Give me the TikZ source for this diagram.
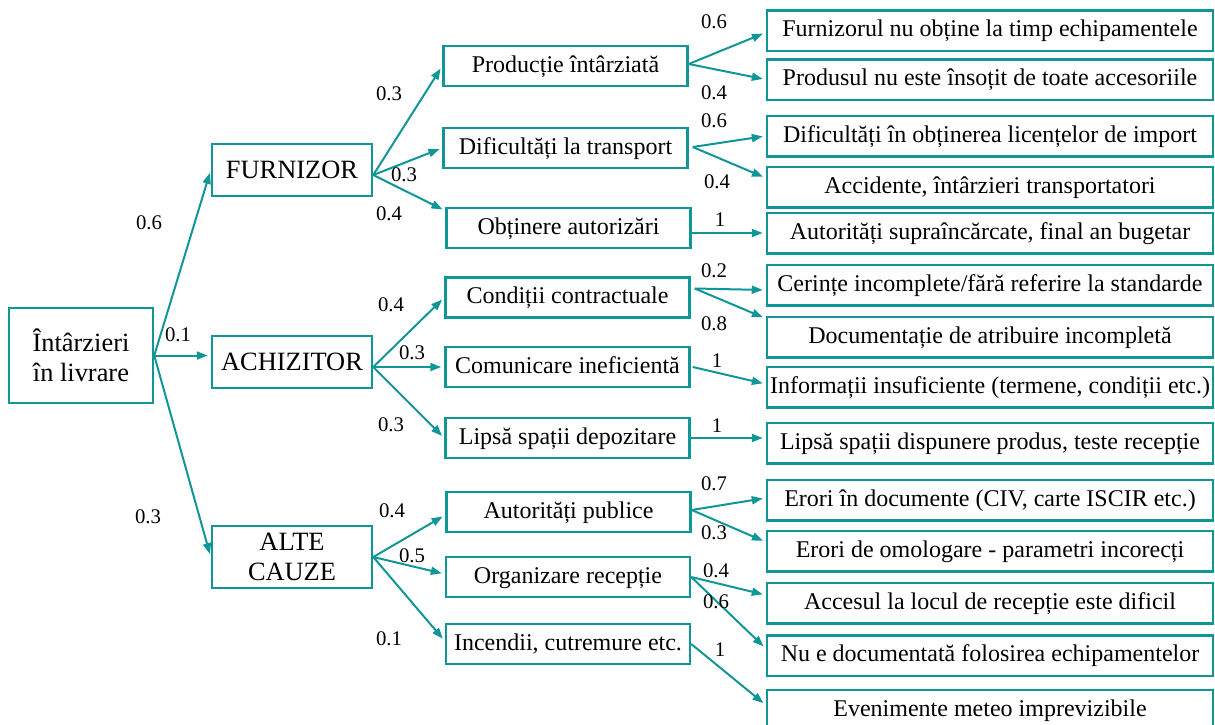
\documentclass[tikz,border=0pt]{standalone}
\usepackage{fontspec}
\setmainfont{Liberation Serif}
\usetikzlibrary{arrows.meta,calc}
\definecolor{treeteal}{RGB}{16,150,150}

\begin{document}
\begin{tikzpicture}[x=0.5pt,y=-0.5pt,
  box/.style={draw=treeteal, line width=1.25pt, rectangle, inner sep=0pt, align=center},
  big/.style={box, font=\fontsize{13.2}{15}\selectfont},
  mid/.style={box, minimum width=122pt, minimum height=20pt, text height=8.6pt, text depth=2.4pt, font=\fontsize{12}{14}\selectfont},
  leaf/.style={box, minimum width=223pt, minimum height=20.25pt, text height=8.6pt, text depth=2.4pt, font=\fontsize{12}{14}\selectfont},
  lnk/.style={draw=treeteal, line width=1pt, -{Triangle[length=5.5pt,width=4pt]}, shorten >=1.5pt},
  prob/.style={font=\fontsize{10.4}{12}\selectfont, inner sep=0pt}]

\useasboundingbox (0,0) rectangle (1215,724);
\begin{scope}
\clip (0,0) rectangle (1215,724);

% root and first level
\node[big, minimum width=72pt, minimum height=47.5pt] (root) at (81,355.5) {Întârzieri\\în livrare};
\node[big, minimum width=80pt, minimum height=26pt] (fur) at (292,170) {FURNIZOR};
\node[big, minimum width=80pt, minimum height=26pt] (ach) at (292,362) {ACHIZITOR};
\node[big, minimum width=80pt, minimum height=31pt] (alt) at (292,557) {ALTE\\CAUZE};

% second level
\node[mid] (p1) at (565.5,66)  {Producție întârziată};
\node[mid] (p2) at (565.5,148) {Dificultăți la transport};
\node[mid] (p3) at (568.5,228) {Obținere autorizări};
\node[mid] (a1) at (567.5,297.5) {Condiții contractuale};
\node[mid] (a2) at (567.5,367) {Comunicare ineficientă};
\node[mid] (a3) at (567.5,438) {Lipsă spații depozitare};
\node[mid] (c1) at (568.5,512) {Autorități publice};
\node[mid] (c2) at (568,577)   {Organizare recepție};
\node[mid] (c3) at (568,644)   {Incendii, cutremure etc.};

% third level
\node[leaf] (r1)  at (990,30.5)  {Furnizorul nu obține la timp echipamentele};
\node[leaf] (r2)  at (990,79.5)  {Produsul nu este însoțit de toate accesoriile};
\node[leaf] (r3)  at (990,136)   {Dificultăți în obținerea licențelor de import};
\node[leaf] (r4)  at (990,187)   {Accidente, întârzieri transportatori};
\node[leaf] (r5)  at (990,233)   {Autorități supraîncărcate, final an bugetar};
\node[leaf] (r6)  at (990,285)   {Cerințe incomplete/fără referire la standarde};
\node[leaf] (r7)  at (990,337)   {Documentație de atribuire incompletă};
\node[leaf] (r8)  at (990,387)   {Informații insuficiente (termene, condiții etc.)};
\node[leaf] (r9)  at (990,443)   {Lipsă spații dispunere produs, teste recepție};
\node[leaf] (r10) at (990,500)   {Erori în documente (CIV, carte ISCIR etc.)};
\node[leaf] (r11) at (990,551)   {Erori de omologare - parametri incorecți};
\node[leaf] (r12) at (990,603)   {Accesul la locul de recepție este dificil};
\node[leaf] (r13) at (990,655.5) {Nu e documentată folosirea echipamentelor};
\node[leaf] (r14) at (990,710)   {Evenimente meteo imprevizibile};

% connectors from the root
\draw[lnk] (root.east) -- (fur.west);
\draw[lnk] (root.east) -- (root.east -| ach.west);
\draw[lnk] (root.east) -- (alt.west);

% connectors from the first level
\draw[lnk] ($(fur.east)+(0,5)$) -- (p1.west);
\draw[lnk] ($(fur.east)+(0,5)$) -- (p2.west);
\draw[lnk] ($(fur.east)+(0,5)$) -- ($(p3.north west)+(0,4)$);
\draw[lnk] ($(ach.east)+(0,5)$) -- (a1.west);
\draw[lnk] ($(ach.east)+(0,5)$) -- (a2.west);
\draw[lnk] ($(ach.east)+(0,5)$) -- (a3.west);
\draw[lnk] (alt.east) -- ($(c1.west)+(0,3)$);
\draw[lnk] (alt.east) -- ($(c2.west)+(0,-3)$);
\draw[lnk] (alt.east) -- ($(c3.west)+(0,-3)$);

% connectors from the second level
\draw[lnk] ($(p1.east)+(0,-2)$) -- ($(r1.west)+(0,2)$);
\draw[lnk] ($(p1.east)+(0,-2)$) -- (r2.west);
\draw[lnk] ($(p2.east)+(4,-1)$) -- (r3.west);
\draw[lnk] ($(p2.east)+(4,-1)$) -- ($(r4.west)+(0,-9)$);
\draw[lnk] (p3.east |- r5.west) -- (r5.west);
\draw[lnk] ($(a1.east)+(4,-9)$) -- ($(r6.west)+(0,5)$);
\draw[lnk] ($(a1.east)+(4,-9)$) -- ($(r7.north west)+(0,3)$);
\draw[lnk] ($(a2.east)+(2,0)$) -- ($(r8.west)+(0,-3)$);
\draw[lnk] (a3.east) -- (a3.east -| r9.west);
\draw[lnk] ($(c1.east)+(0,-2)$) -- ($(r10.west)+(0,-2)$);
\draw[lnk] ($(c1.east)+(0,-2)$) -- ($(r11.west)+(0,-9)$);
\draw[lnk] (c2.east) -- ($(r12.west)+(0,-8)$);
\draw[lnk] (c2.east) -- ($(r13.west)+(0,-7)$);
\draw[lnk] (c3.east) -- ($(r14.west)+(0,-5)$);

% probabilities
\node[prob] (q1) at (149,223) {0.6};
\node[prob] (q2) at (178,335) {0.1};
\node[prob] (q3) at (148,517) {0.3};
\node[prob] (q4) at (389,94)  {0.3};
\node[prob] (q5) at (404,175) {0.3};
\node[prob] (q6) at (389,214) {0.4};
\node[prob] (q7) at (391,305) {0.4};
\node[prob] (q8) at (412,353) {0.3};
\node[prob] (q9) at (391,425) {0.3};
\node[prob] (q10) at (392,511) {0.4};
\node[prob] (q11) at (412,556) {0.5};
\node[prob] (q12) at (389,639) {0.1};
\node[prob] (q13) at (714,22)  {0.6};
\node[prob] (q14) at (714,93)  {0.4};
\node[prob] (q15) at (714,121) {0.6};
\node[prob] (q16) at (717,182) {0.4};
\node[prob] (q17) at (720,220) {1};
\node[prob] (q18) at (714,271) {0.2};
\node[prob] (q19) at (714,324) {0.8};
\node[prob] (q20) at (717,361) {1};
\node[prob] (q21) at (717,426) {1};
\node[prob] (q22) at (714,484) {0.7};
\node[prob] (q23) at (714,533) {0.3};
\node[prob] (q24) at (716,571) {0.4};
\node[prob] (q25) at (716,602) {0.6};
\node[prob] (q26) at (720,650) {1};
\end{scope}
\end{tikzpicture}
\end{document}
